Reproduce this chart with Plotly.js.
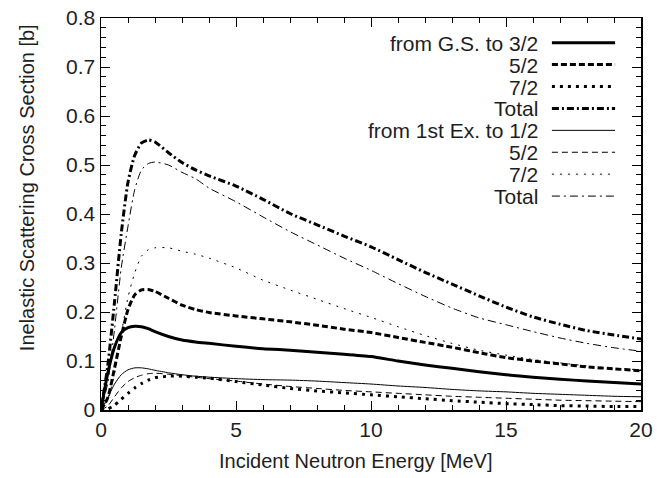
<!DOCTYPE html>
<html>
<head>
<meta charset="utf-8">
<script src="https://cdn.plot.ly/plotly-3.0.1.min.js"></script>
<style>html,body{margin:0;padding:0;background:#fff;}#chart{width:657px;height:478px;}</style>
</head>
<body>
<div id="chart"></div>
<script>
// Incident neutron energy [MeV]
var energy = [0, 0.25, 0.5, 0.75, 1, 1.25, 1.5, 1.75, 2, 2.5, 3, 3.5, 4, 5, 6, 7, 8, 9, 10, 11, 12, 13, 14, 15, 16, 17, 18, 19, 20];

// from G.S.
var gs32 = [0, 0.075, 0.128, 0.158, 0.168, 0.171, 0.170, 0.166, 0.160, 0.150, 0.143, 0.139, 0.136, 0.130, 0.125, 0.122, 0.118, 0.114, 0.109, 0.100, 0.092, 0.085, 0.078, 0.072, 0.067, 0.063, 0.059, 0.056, 0.053];
var gs52 = [0, 0.025, 0.085, 0.150, 0.205, 0.235, 0.245, 0.246, 0.242, 0.228, 0.214, 0.205, 0.199, 0.192, 0.186, 0.180, 0.173, 0.165, 0.158, 0.148, 0.138, 0.128, 0.117, 0.107, 0.100, 0.094, 0.088, 0.084, 0.080];
var gs72 = [0, 0.002, 0.010, 0.022, 0.034, 0.045, 0.054, 0.061, 0.066, 0.069, 0.069, 0.067, 0.065, 0.058, 0.051, 0.044, 0.039, 0.035, 0.031, 0.027, 0.023, 0.019, 0.016, 0.013, 0.011, 0.009, 0.008, 0.007, 0.007];
var gsTot = [0, 0.090, 0.220, 0.360, 0.465, 0.520, 0.545, 0.551, 0.547, 0.525, 0.505, 0.490, 0.478, 0.457, 0.430, 0.401, 0.378, 0.355, 0.333, 0.307, 0.281, 0.257, 0.233, 0.210, 0.190, 0.175, 0.162, 0.153, 0.145];

// from 1st Ex.
var ex12 = [0, 0.025, 0.053, 0.072, 0.082, 0.086, 0.086, 0.084, 0.081, 0.076, 0.072, 0.069, 0.067, 0.064, 0.062, 0.061, 0.059, 0.056, 0.053, 0.049, 0.046, 0.042, 0.039, 0.037, 0.034, 0.032, 0.030, 0.028, 0.027];
var ex52 = [0, 0.008, 0.027, 0.045, 0.058, 0.066, 0.071, 0.074, 0.075, 0.073, 0.070, 0.067, 0.064, 0.059, 0.053, 0.048, 0.044, 0.040, 0.037, 0.034, 0.031, 0.028, 0.026, 0.024, 0.022, 0.020, 0.019, 0.018, 0.017];
var ex72 = [0, 0.020, 0.075, 0.155, 0.230, 0.280, 0.314, 0.327, 0.331, 0.331, 0.324, 0.318, 0.310, 0.290, 0.265, 0.245, 0.226, 0.207, 0.189, 0.170, 0.152, 0.136, 0.122, 0.112, 0.103, 0.096, 0.090, 0.085, 0.082];
var exTot = [0, 0.055, 0.165, 0.290, 0.375, 0.450, 0.490, 0.503, 0.506, 0.500, 0.485, 0.472, 0.453, 0.425, 0.394, 0.364, 0.337, 0.310, 0.285, 0.258, 0.232, 0.208, 0.188, 0.174, 0.160, 0.147, 0.136, 0.127, 0.120];

var seriesNames = ["from G.S. to 3/2", "5/2", "7/2", "Total", "from 1st Ex. to 1/2", "5/2", "7/2", "Total"];
var seriesData = [gs32, gs52, gs72, gsTot, ex12, ex52, ex72, exTot];

var xTickVals = [0, 5, 10, 15, 20];
var yTickVals = [0, 0.1, 0.2, 0.3, 0.4, 0.5, 0.6, 0.7, 0.8];
var yTickText = ["0", "0.1", "0.2", "0.3", "0.4", "0.5", "0.6", "0.7", "0.8"];
var xTitle = "Incident Neutron Energy [MeV]";
var yTitle = "Inelastic Scattering Cross Section [b]";

var styles = [
  {width: 3, dash: "solid"},
  {width: 3, dash: "6px,3px"},
  {width: 3, dash: "3px,5px"},
  {width: 3, dash: "7px,3px,2px,3px"},
  {width: 1, dash: "solid"},
  {width: 1, dash: "6px,4px"},
  {width: 1, dash: "2px,6px"},
  {width: 1, dash: "8px,4px,2px,4px"}
];

var FONT = "Liberation Sans, Arial, Helvetica, sans-serif";
var TXT = "#1e1e1e";

var traces = seriesData.map(function (ys, i) {
  return {
    x: energy, y: ys, type: "scatter", mode: "lines", name: seriesNames[i],
    line: {color: "#000", width: styles[i].width, dash: styles[i].dash, shape: "spline", smoothing: 0.6},
    showlegend: false, hoverinfo: "skip"
  };
});

// gnuplot-style legend: right-aligned text with line sample on the right
var annotations = [], shapes = [];
var legTextX = 0.812, legLineX0 = 0.835, legLineX1 = 0.952, legY0 = 0.937, legDy = 0.0559;
seriesNames.forEach(function (nm, i) {
  var yy = legY0 - i * legDy;
  annotations.push({
    xref: "paper", yref: "paper", x: legTextX, y: yy, xanchor: "right", yanchor: "middle",
    text: nm, showarrow: false, height: 20, valign: "middle", borderpad: 0,
    font: {family: FONT, size: 21, color: TXT}
  });
  shapes.push({
    type: "line", xref: "paper", yref: "paper", x0: legLineX0, x1: legLineX1, y0: yy, y1: yy,
    line: {color: "#000", width: styles[i].width, dash: styles[i].dash}
  });
});

// axis titles (placed like the gnuplot original, slightly off-centre)
annotations.push({
  xref: "paper", yref: "paper", x: 0.472, y: -0.130, xanchor: "center", yanchor: "middle",
  text: xTitle, showarrow: false, font: {family: FONT, size: 20, color: TXT}
});
annotations.push({
  xref: "paper", yref: "paper", x: -0.137, y: 0.566, xanchor: "center", yanchor: "middle",
  text: yTitle, textangle: -90, showarrow: false, font: {family: FONT, size: 20, color: TXT}
});

var layout = {
  width: 657, height: 478,
  margin: {l: 101, r: 16, t: 18, b: 68},
  paper_bgcolor: "#fff", plot_bgcolor: "#fff",
  font: {family: FONT, size: 21, color: TXT},
  xaxis: {
    range: [0, 20], tickmode: "array", tickvals: xTickVals,
    ticks: "inside", ticklen: 9, tickwidth: 1, tickcolor: "#000",
    minor: {dtick: 1, ticks: "inside", ticklen: 5, tickwidth: 1, tickcolor: "#000"},
    showline: true, linecolor: "#000", linewidth: 1.5, mirror: "allticks",
    showgrid: false, zeroline: false,
    tickfont: {family: FONT, size: 21, color: TXT}
  },
  yaxis: {
    range: [0, 0.8], tickmode: "array", tickvals: yTickVals, ticktext: yTickText,
    ticks: "inside", ticklen: 9, tickwidth: 1, tickcolor: "#000",
    minor: {dtick: 0.02, ticks: "inside", ticklen: 5, tickwidth: 1, tickcolor: "#000"},
    showline: true, linecolor: "#000", linewidth: 1.5, mirror: "allticks",
    showgrid: false, zeroline: false,
    tickfont: {family: FONT, size: 21, color: TXT}
  },
  annotations: annotations,
  shapes: shapes,
  showlegend: false
};

Plotly.newPlot("chart", traces, layout, {displayModeBar: false, staticPlot: true});
</script>
</body>
</html>
